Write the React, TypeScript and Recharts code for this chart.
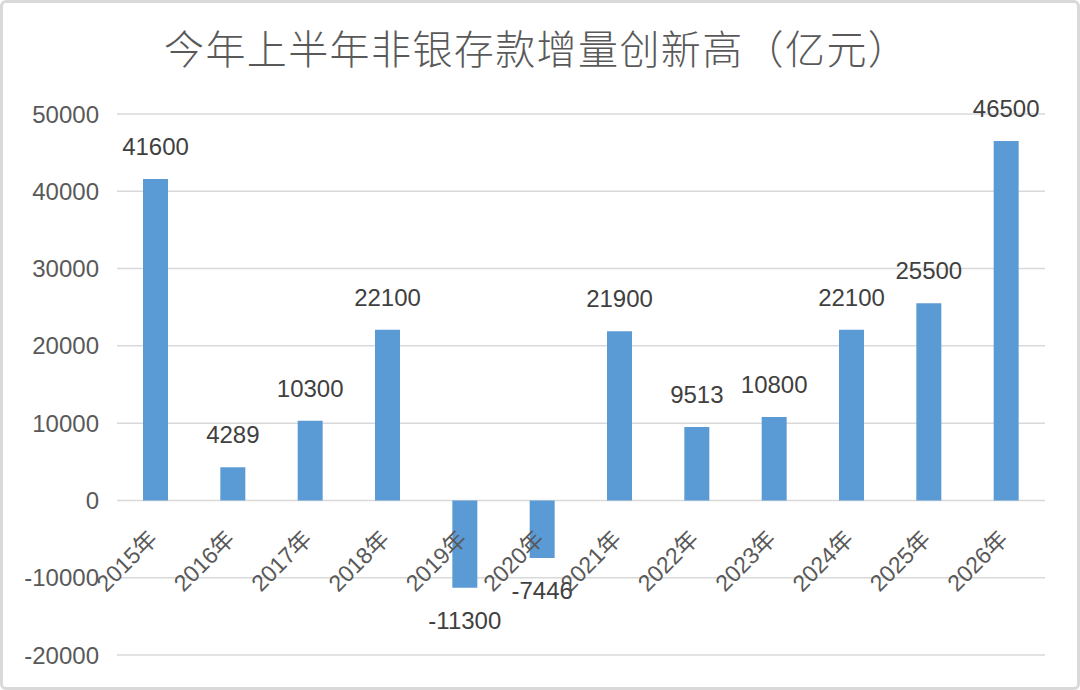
import React from 'react';
import {
  ComposedChart,
  Bar,
  Line,
  XAxis,
  YAxis,
  CartesianGrid,
  LabelList,
} from 'recharts';

// 年份与非银存款增量（亿元）
const years = ['2015年', '2016年', '2017年', '2018年', '2019年', '2020年', '2021年', '2022年', '2023年', '2024年', '2025年', '2026年'];
const increments = [41600, 4289, 10300, 22100, -11300, -7446, 21900, 9513, 10800, 22100, 25500, 46500];
const yTicks = [-20000, -10000, 0, 10000, 20000, 30000, 40000, 50000];

const data = years.map((year, i) => ({ year, value: increments[i], base: 0 }));

const numFont = '"Liberation Sans", Arial, "Noto Sans CJK SC", sans-serif';

// category label drawn at the zero line, rotated like the Excel axis
const YearLabel = (props: any) => {
  const { x, y, value } = props;
  const px = x + 3;
  const py = y + 40;
  return (
    <text
      x={px}
      y={py}
      textAnchor="end"
      transform={`rotate(-45 ${px} ${py})`}
      fill="#595959"
      fontSize={23}
      fontFamily={numFont}
    >
      {value}
    </text>
  );
};

export default function App() {
  return (
    <div
      style={{
        position: 'absolute',
        left: 0,
        top: 0,
        width: 1080,
        height: 690,
        background: '#fff',
        border: '3px solid #d9d9d9',
        borderRadius: 6,
        boxSizing: 'border-box',
      }}
    >
      <div
        style={{
          position: 'absolute',
          left: 161,
          top: 24,
          lineHeight: '40px',
          fontSize: 40,
          fontWeight: 300,
          letterSpacing: 1.4,
          color: '#595959',
          fontFamily: '"Noto Sans CJK SC", sans-serif',
          whiteSpace: 'nowrap',
        }}
      >
        今年上半年非银存款增量创新高（亿元）
      </div>
      <div style={{ position: 'absolute', left: -3, top: -3 }}>
        <ComposedChart
          width={1080}
          height={690}
          data={data}
          margin={{ top: 114, right: 35, left: 17, bottom: 35 }}
        >
          <CartesianGrid vertical={false} stroke="#d9d9d9" strokeWidth={1.5} />
          <XAxis dataKey="year" hide />
          <YAxis
            width={100}
            domain={[-20000, 50000]}
            ticks={yTicks}
            interval={0}
            axisLine={false}
            tickLine={false}
            tickSize={0}
            tickMargin={18}
            tick={{ fill: '#595959', fontSize: 24, fontFamily: numFont }}
          />
          <Bar dataKey="value" fill="#5B9BD5" barSize={25} isAnimationActive={false}>
            <LabelList
              dataKey="value"
              position="top"
              offset={24}
              fill="#404040"
              fontSize={24}
              fontFamily={numFont}
            />
          </Bar>
          <Line
            dataKey="base"
            stroke="none"
            dot={false}
            activeDot={false}
            isAnimationActive={false}
          >
            <LabelList dataKey="year" content={YearLabel} />
          </Line>
        </ComposedChart>
      </div>
    </div>
  );
}
